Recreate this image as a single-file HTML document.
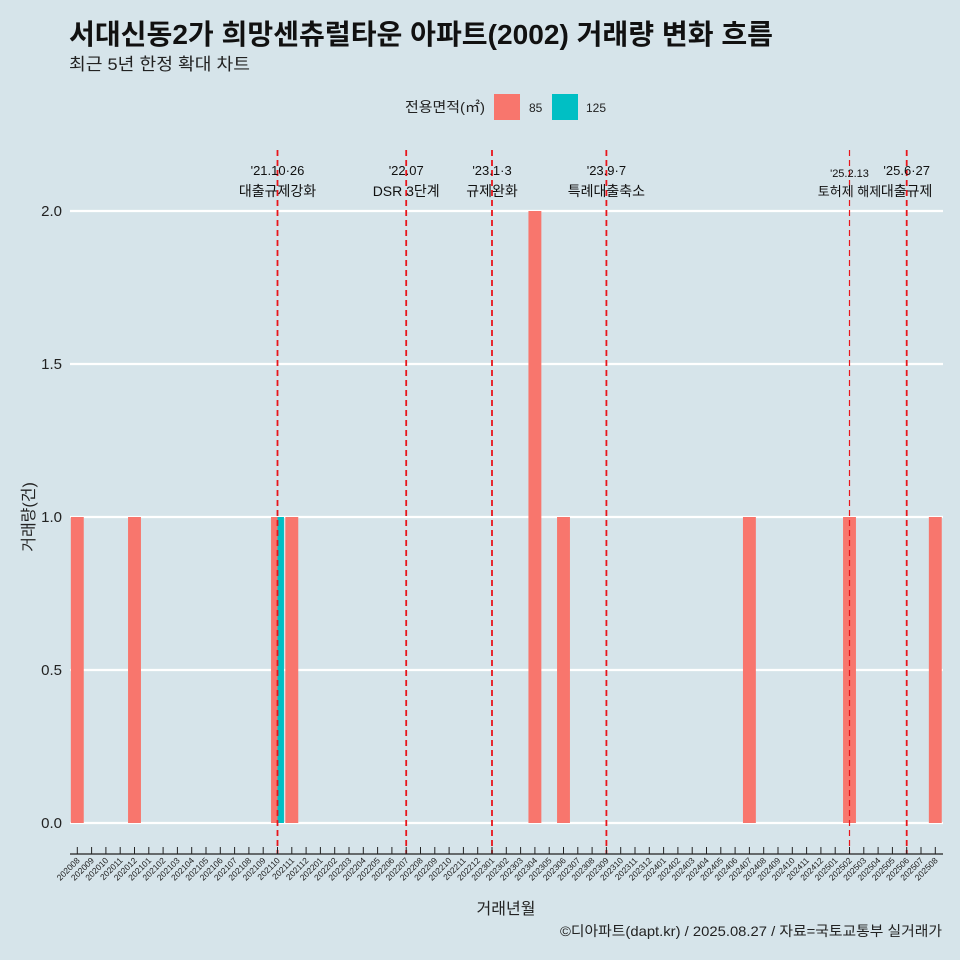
<!DOCTYPE html>
<html><head><meta charset="utf-8">
<style>
body{margin:0;background:#d6e4ea;}
svg{display:block;font-family:"Liberation Sans","Noto Sans CJK KR",sans-serif;}
</style></head>
<body>
<svg id="c" width="960" height="960">
<rect width="960" height="960" fill="#d6e4ea"/>
<text x="69" y="44" font-size="28" font-weight="bold" fill="#111" textLength="704" lengthAdjust="spacingAndGlyphs">서대신동2가 희망센츄럴타운 아파트(2002) 거래량 변화 흐름</text>
<text x="69" y="70" font-size="17" fill="#222" textLength="181" lengthAdjust="spacingAndGlyphs">최근 5년 한정 확대 차트</text>
<g>
<text x="405" y="112" font-size="14" fill="#222" textLength="80" lengthAdjust="spacingAndGlyphs">전용면적(㎡)</text>
<rect x="494" y="94" width="26" height="26" fill="#f8766d"/>
<text x="529" y="112" font-size="12" fill="#222">85</text>
<rect x="552" y="94" width="26" height="26" fill="#00bfc4"/>
<text x="586" y="112" font-size="12" fill="#222">125</text>
</g>
<g id="grid"></g><g id="bars"></g><g id="vlines"></g><g id="xaxis"></g>
<text transform="translate(34,517) rotate(-90)" text-anchor="middle" font-size="16" fill="#222">거래량(건)</text>
<text x="506" y="914" text-anchor="middle" font-size="16" fill="#222">거래년월</text>
<text x="942" y="936" text-anchor="end" font-size="14" fill="#222" textLength="382" lengthAdjust="spacingAndGlyphs">©디아파트(dapt.kr) / 2025.08.27 / 자료=국토교통부 실거래가</text>
</svg>
<script>
const months=[];
for(let y=2020,m=8;y<2025||(y===2025&&m<=8);){months.push(y+String(m).padStart(2,'0'));m++;if(m>12){m=1;y++;}}
const series85={"202008":1,"202012":1,"202110":1,"202111":1,"202304":2,"202306":1,"202407":1,"202502":1,"202508":1};
const series125={"202110":1};
const yTicks=[0,0.5,1,1.5,2];
const yTickLabels=["0.0","0.5","1.0","1.5","2.0"];
const eventMonths=["202110","202207","202301","202309","202502","202506"];
const eventDates=["'21.10·26","'22.07","'23.1·3","'23.9·7","'25.2.13","'25.6·27"];
const eventNames=["대출규제강화","DSR 3단계","규제완화","특례대출축소","토허제 해제","대출규제"];

const NS="http://www.w3.org/2000/svg";
function el(tag,attrs,parent,txt){const e=document.createElementNS(NS,tag);for(const k in attrs)e.setAttribute(k,attrs[k]);if(txt!=null)e.textContent=txt;parent.appendChild(e);return e;}
const x0=77.3,step=14.3;
const xS=i=>x0+i*step;
const yS=v=>823-v*306;
const grid=document.getElementById('grid');
yTicks.forEach((t,i)=>{
  const l=el('line',{x1:70,x2:943,y1:yS(t),y2:yS(t),stroke:'#fff','stroke-width':2.2},grid);
  
  
  const tx=el('text',{x:62,y:yS(t)+5,'text-anchor':'end','font-size':15,fill:'#222'},grid,yTickLabels[i]);
  
  
});
const bars=document.getElementById('bars');
const bw=12.9;
months.forEach((m,i)=>{
  const a=series85[m]||0,b=series125[m]||0;
  const both=a&&b;
  if(a){const r=el('rect',{x:xS(i)-bw/2,y:yS(a),width:both?bw/2:bw,height:yS(0)-yS(a),fill:'#f8766d'},bars);
    
    }
  if(b){const r=el('rect',{x:both?xS(i):xS(i)-bw/2,y:yS(b),width:both?bw/2:bw,height:yS(0)-yS(b),fill:'#00bfc4'},bars);
    
    }
});
const vl=document.getElementById('vlines');
eventMonths.forEach((m,k)=>{
  const i=months.indexOf(m);const x=xS(i);
  const l=el('line',{x1:x,x2:x,y1:150,y2:854,stroke:'#e8151b','stroke-width':k===4?1.2:1.8,'stroke-dasharray':'6,4'},vl);
  
  
  const small=k===4;
  const t1=el('text',{x:x,y:small?177:175,'text-anchor':'middle','font-size':small?11:13,fill:'#111'},vl,eventDates[k]);
  
  
  const t2=el('text',{x:x,y:196,'text-anchor':'middle','font-size':small?13:14,fill:'#111'},vl,eventNames[k]);
  
  
});
const xa=document.getElementById('xaxis');
const ax=el('line',{x1:70,x2:943,y1:854,y2:854,stroke:'#222','stroke-width':1.2},xa);


months.forEach((m,i)=>{
  const x=xS(i);
  const t=el('line',{x1:x,x2:x,y1:847,y2:854,stroke:'#222','stroke-width':1},xa);
  
  
  const tx=el('text',{x:0,y:0,'text-anchor':'end','font-size':8.5,fill:'#222',transform:`translate(${x+3},${861}) rotate(-45)`},xa,m);
  
  
});
</script>
</body></html>
